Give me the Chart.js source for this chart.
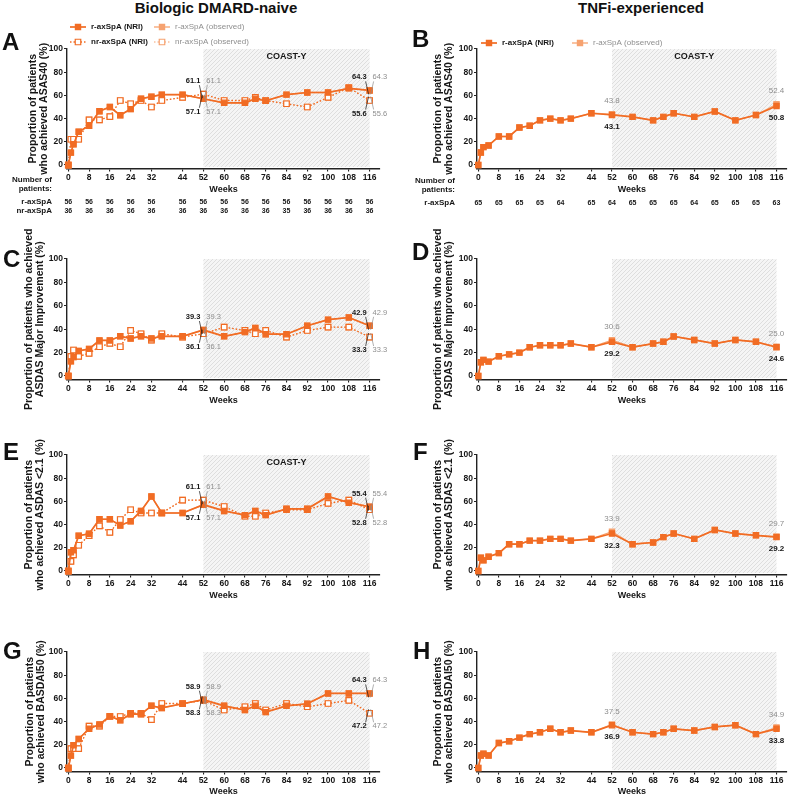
<!DOCTYPE html>
<html>
<head>
<meta charset="utf-8">
<script src="https://cdn.jsdelivr.net/npm/chart.js@4.4.1/dist/chart.umd.min.js"></script>
<style>
  body { margin: 0; background: #fff; width: 792px; height: 797px; position: relative; overflow: hidden;
         font-family: "Liberation Sans", Arial, sans-serif; }
  canvas { position: absolute; }
  .hd { position: absolute; font-weight: bold; font-size: 15px; line-height: 16px; white-space: nowrap; transform: translateX(-50%); color: #111; }
  .lt { position: absolute; font-weight: bold; font-size: 24px; line-height: 24px; color: #111; }
</style>
</head>
<body>
<div class="hd" style="left:216px;top:0">Biologic DMARD-naive</div>
<div class="hd" style="left:641px;top:0">TNFi-experienced</div>

<canvas id="cA" width="396" height="232" style="left:0;top:0"></canvas>
<canvas id="cB" width="396" height="232" style="left:396px;top:0"></canvas>
<canvas id="cC" width="396" height="222" style="left:0;top:200px"></canvas>
<canvas id="cD" width="396" height="222" style="left:396px;top:200px"></canvas>
<canvas id="cE" width="396" height="218" style="left:0;top:400px"></canvas>
<canvas id="cF" width="396" height="218" style="left:396px;top:400px"></canvas>
<canvas id="cG" width="396" height="197" style="left:0;top:600px"></canvas>
<canvas id="cH" width="396" height="197" style="left:396px;top:600px"></canvas>

<div class="lt" style="left:2px;top:30px">A</div>
<div class="lt" style="left:412px;top:27px">B</div>
<div class="lt" style="left:3px;top:247px">C</div>
<div class="lt" style="left:412px;top:240px">D</div>
<div class="lt" style="left:3px;top:440px">E</div>
<div class="lt" style="left:413px;top:440px">F</div>
<div class="lt" style="left:3px;top:639px">G</div>
<div class="lt" style="left:413px;top:639px">H</div>

<script>
// time points and ticks
const weeks = [0, 1, 2, 4, 8, 12, 16, 20, 24, 28, 32, 36, 44, 52, 60, 68, 72, 76, 84, 92, 100, 108, 116];
const xTicks = [0, 8, 16, 24, 32, 44, 52, 60, 68, 76, 84, 92, 100, 108, 116];
const yTicks = [0, 20, 40, 60, 80, 100];

// A - ASAS40, bDMARD-naive
const asasR   = [0, 10.7, 17.9, 28.6, 33.9, 46.4, 50, 42.9, 48.2, 57.1, 58.9, 60.7, 60.7, 57.1, 53.6, 53.6, 57.1, 55.4, 60.7, 62.5, 62.5, 66.1, 64.3];
const asasRObs = [0, 10.7, 17.9, 28.6, 33.9, 46.4, 50, 42.9, 48.2, 57.1, 58.9, 60.7, 60.7, 57.1, 53.6, 53.6, 57.1, 55.4, 60.7, 62.5, 62.5, 66.1, 64.3];
const asasNr  = [0, 22.2, 22.2, 22.2, 38.9, 38.9, 41.7, 55.6, 52.8, 55.6, 50, 55.6, 58.3, 61.1, 55.6, 55.6, 58.3, 55.6, 52.8, 50, 58.3, 66.7, 55.6];
const asasNrObs = [0, 22.2, 22.2, 22.2, 38.9, 38.9, 41.7, 55.6, 52.8, 55.6, 50, 55.6, 58.3, 61.1, 55.6, 55.6, 58.3, 55.6, 52.8, 50, 58.3, 66.7, 55.6];
// B - ASAS40, TNFi-experienced
const asasT    = [0, 10.8, 15.4, 16.9, 24.6, 24.6, 32.3, 33.8, 38.5, 40, 38.5, 40, 44.6, 43.1, 41.5, 38.5, 41.5, 44.6, 41.5, 46.2, 38.5, 43.1, 50.8];
const asasTObs = [0, 10.8, 15.4, 16.9, 24.6, 24.6, 32.3, 33.8, 38.5, 40, 38.5, 40, 44.6, 43.8, 41.5, 38.5, 41.5, 44.6, 41.5, 46.2, 38.5, 43.1, 52.4];
// C - ASDAS major improvement, bDMARD-naive
const asdasMiR   = [0, 12.5, 16.1, 21.4, 23.2, 30.4, 30.4, 33.9, 32.1, 33.9, 32.1, 33.9, 33.9, 39.3, 33.9, 37.5, 41.1, 35.7, 35.7, 42.9, 48.2, 50, 42.9];
const asdasMiRObs = [0, 12.5, 16.1, 21.4, 23.2, 30.4, 30.4, 33.9, 32.1, 33.9, 32.1, 33.9, 33.9, 39.3, 33.9, 37.5, 41.1, 35.7, 35.7, 42.9, 48.2, 50, 42.9];
const asdasMiNr  = [0, 16.7, 22.2, 16.7, 19.4, 25, 27.8, 25, 38.9, 36.1, 30.6, 36.1, 33.3, 36.1, 41.7, 38.9, 36.1, 38.9, 33.3, 38.9, 41.7, 41.7, 33.3];
const asdasMiNrObs = [0, 16.7, 22.2, 16.7, 19.4, 25, 27.8, 25, 38.9, 36.1, 30.6, 36.1, 33.3, 36.1, 41.7, 38.9, 36.1, 38.9, 33.3, 38.9, 41.7, 41.7, 33.3];
// D - ASDAS major improvement, TNFi-experienced
const asdasMiT    = [0, 11.7, 13.8, 12.3, 16.9, 18.5, 20, 24.6, 26.2, 26.2, 26.2, 27.7, 24.6, 29.2, 24.6, 27.7, 29.2, 33.8, 30.8, 27.7, 30.8, 29.2, 24.6];
const asdasMiTObs = [0, 11.7, 13.8, 12.3, 16.9, 18.5, 20, 24.6, 26.2, 26.2, 26.2, 27.7, 24.6, 30.6, 24.6, 27.7, 29.2, 33.8, 30.8, 27.7, 30.8, 29.2, 25.0];
// E - ASDAS <2.1, bDMARD-naive
const asdasLdR   = [0, 16.1, 17.9, 30.4, 32.1, 44.6, 44.6, 39.3, 42.9, 51.8, 64.3, 50, 50, 57.1, 51.8, 48.2, 51.8, 48.2, 53.6, 53.6, 64.3, 58.9, 55.4];
const asdasLdRObs = [0, 16.1, 17.9, 30.4, 32.1, 44.6, 44.6, 39.3, 42.9, 51.8, 64.3, 50, 50, 57.1, 51.8, 48.2, 51.8, 48.2, 53.6, 53.6, 64.3, 58.9, 55.4];
const asdasLdNr  = [0, 8.3, 13.9, 22.2, 30.6, 38.9, 33.3, 44.4, 52.8, 50, 50, 50, 61.1, 61.1, 55.6, 47.2, 47.2, 50, 52.8, 52.8, 58.3, 61.1, 52.8];
const asdasLdNrObs = [0, 8.3, 13.9, 22.2, 30.6, 38.9, 33.3, 44.4, 52.8, 50, 50, 50, 61.1, 61.1, 55.6, 47.2, 47.2, 50, 52.8, 52.8, 58.3, 61.1, 52.8];
// F - ASDAS <2.1, TNFi-experienced
const asdasLdT    = [0, 11.5, 9.2, 12.3, 15.4, 23.1, 23.1, 26.2, 26.2, 27.7, 27.7, 26.2, 27.7, 32.3, 23.1, 24.6, 29.2, 32.3, 27.7, 35.4, 32.3, 30.8, 29.2];
const asdasLdTObs = [0, 11.5, 9.2, 12.3, 15.4, 23.1, 23.1, 26.2, 26.2, 27.7, 27.7, 26.2, 27.7, 33.9, 23.1, 24.6, 29.2, 32.3, 27.7, 35.4, 32.3, 30.8, 29.7];
// G - BASDAI50, bDMARD-naive
const basdaiR   = [0, 10.7, 19.6, 25, 33.9, 37.5, 44.6, 41.1, 46.4, 46.4, 53.6, 51.8, 55.4, 58.9, 53.6, 50, 53.6, 48.2, 53.6, 55.4, 64.3, 64.3, 64.3];
const basdaiRObs = [0, 10.7, 19.6, 25, 33.9, 37.5, 44.6, 41.1, 46.4, 46.4, 53.6, 51.8, 55.4, 58.9, 53.6, 50, 53.6, 48.2, 53.6, 55.4, 64.3, 64.3, 64.3];
const basdaiNr  = [0, 16.7, 16.7, 16.7, 36.1, 36.1, 44.4, 44.4, 47.2, 47.2, 41.7, 55.6, 55.6, 58.3, 50, 52.8, 55.6, 50, 55.6, 52.8, 55.6, 58.3, 47.2];
const basdaiNrObs = [0, 16.7, 16.7, 16.7, 36.1, 36.1, 44.4, 44.4, 47.2, 47.2, 41.7, 55.6, 55.6, 58.3, 50, 52.8, 55.6, 50, 55.6, 52.8, 55.6, 58.3, 47.2];
// H - BASDAI50, TNFi-experienced
const basdaiT    = [0, 10.8, 12.3, 10.8, 21.5, 23.1, 26.2, 29.2, 30.8, 33.8, 30.8, 32.3, 30.8, 36.9, 30.8, 29.2, 30.8, 33.8, 32.3, 35.4, 36.9, 29.2, 33.8];
const basdaiTObs = [0, 10.8, 12.3, 10.8, 21.5, 23.1, 26.2, 29.2, 30.8, 33.8, 30.8, 32.3, 30.8, 37.5, 30.8, 29.2, 30.8, 33.8, 32.3, 35.4, 36.9, 29.2, 34.9];

// number of patients (at xTicks)
const nNaiveR  = [56, 56, 56, 56, 56, 56, 56, 56, 56, 56, 56, 56, 56, 56, 56];
const nNaiveNr = [36, 36, 36, 36, 36, 36, 36, 36, 36, 36, 35, 36, 36, 36, 36];
const nTnfiR   = [65, 65, 65, 65, 64, 65, 64, 65, 65, 65, 64, 65, 65, 65, 63];

const NRI = "rgb(241,108,36)";
const OBS = "rgb(246,162,112)";
const INK = "#161616";
const GREY = "#8e8e8e";

const styles = {
  rNri:  { color: NRI, fill: NRI,    dash: [],       width: 1.7, r: 3.7, order: 0 },
  nrNri: { color: NRI, fill: "#fff", dash: [1.5, 2], width: 1.3, r: 3.9, order: 1 },
  rObs:  { color: OBS, fill: OBS,    dash: [],       width: 1.3, r: 3.7, order: 2 },
  nrObs: { color: OBS, fill: "#fff", dash: [1.5, 2], width: 1.1, r: 3.9, order: 3 }
};

function series(vals, key) {
  const st = styles[key];
  return {
    data: weeks.map((w, i) => ({ x: w, y: vals[i] })),
    borderColor: st.color,
    backgroundColor: st.fill,
    borderDash: st.dash,
    borderWidth: st.width,
    pointStyle: "rect",
    pointRadius: st.r,
    pointBorderWidth: 1.2,
    pointBackgroundColor: st.fill,
    pointBorderColor: st.color,
    order: st.order,
    tension: 0,
    clip: false
  };
}

function hatchFill(ctx) {
  const c = document.createElement("canvas");
  c.width = 4; c.height = 4;
  const g = c.getContext("2d");
  g.fillStyle = "#f5f5f5";
  g.fillRect(0, 0, 4, 4);
  g.strokeStyle = "#d4d4d4";
  g.lineWidth = 0.7;
  g.beginPath();
  g.moveTo(0, 4); g.lineTo(4, 0);
  g.moveTo(-1, 1); g.lineTo(1, -1);
  g.moveTo(3, 5); g.lineTo(5, 3);
  g.stroke();
  return ctx.createPattern(c, "repeat");
}

function marker(ctx, x, y, st) {
  const h = st.r * Math.SQRT1_2;
  ctx.fillStyle = st.fill;
  ctx.strokeStyle = st.color;
  ctx.lineWidth = 1.2;
  ctx.setLineDash([]);
  ctx.beginPath();
  ctx.rect(x - h, y - h, 2 * h, 2 * h);
  ctx.fill();
  ctx.stroke();
}

const extras = {
  id: "extras",
  beforeDraw(chart, args, o) {
    const { ctx, scales: { x, y } } = chart;
    const l = x.getPixelForValue(52), r = x.getPixelForValue(116);
    const t = y.getPixelForValue(100), b = y.getPixelForValue(0);
    ctx.save();
    ctx.fillStyle = hatchFill(ctx);
    ctx.fillRect(l, t, r - l, b - t + 2);
    if (o.coast) {
      ctx.fillStyle = INK;
      ctx.font = "bold 9px 'Liberation Sans', Arial";
      ctx.textAlign = "center";
      ctx.textBaseline = "middle";
      ctx.fillText("COAST-Y", (l + r) / 2, t + 8);
    }
    ctx.restore();
  },
  afterDraw(chart, args, o) {
    const { ctx, scales: { x, y } } = chart;
    ctx.save();
    ctx.textBaseline = "middle";
    // value labels at weeks 52 and 116
    (o.notes || []).forEach(n => {
      const i = weeks.indexOf(n.w);
      const px = x.getPixelForValue(n.w);
      const pyN = y.getPixelForValue(n.nri[i]);
      const pyO = y.getPixelForValue(n.obs[i]);
      const a = n.nri[i].toFixed(1), b = n.obs[i].toFixed(1);
      if (o.pair) {
        const s = n.up ? -1 : 1;
        const ly = pyN + s * 13;
        ctx.font = "bold 7.5px 'Liberation Sans', Arial";
        ctx.fillStyle = INK;
        ctx.textAlign = "right";
        ctx.fillText(a, px - 3, ly);
        ctx.font = "7.5px 'Liberation Sans', Arial";
        ctx.fillStyle = GREY;
        ctx.textAlign = "left";
        ctx.fillText(b, px + 3, ly);
        ctx.lineWidth = 0.7;
        ctx.strokeStyle = INK;
        ctx.beginPath();
        ctx.moveTo(px - 4, ly - s * 4); ctx.lineTo(px - 1, pyN - s * 4); ctx.stroke();
        ctx.strokeStyle = GREY;
        ctx.beginPath();
        ctx.moveTo(px + 4, ly - s * 4); ctx.lineTo(px + 1, pyN - s * 4); ctx.stroke();
      } else {
        ctx.textAlign = "center";
        ctx.font = "8px 'Liberation Sans', Arial";
        ctx.fillStyle = GREY;
        ctx.fillText(b, px, pyO - 13);
        ctx.font = "bold 8px 'Liberation Sans', Arial";
        ctx.fillStyle = INK;
        ctx.fillText(a, px, pyN + 12);
      }
    });
    // legend
    (o.legend || []).forEach(it => {
      const st = styles[it.key];
      ctx.strokeStyle = st.color;
      ctx.lineWidth = st.width;
      ctx.setLineDash(st.dash);
      ctx.beginPath();
      ctx.moveTo(it.x - 8, it.y); ctx.lineTo(it.x + 8, it.y);
      ctx.stroke();
      marker(ctx, it.x, it.y, st);
      ctx.font = (it.bold ? "bold " : "") + "8px 'Liberation Sans', Arial";
      ctx.fillStyle = it.bold ? INK : GREY;
      ctx.textAlign = "left";
      ctx.fillText(it.text, it.x + 13, it.y);
    });
    // number of patients table
    if (o.table) {
      const tb = o.table;
      ctx.fillStyle = INK;
      ctx.textAlign = "right";
      ctx.font = "bold 8px 'Liberation Sans', Arial";
      ctx.fillText("Number of", tb.labelX, tb.headY);
      ctx.fillText("patients:", tb.labelX, tb.headY + 9);
      tb.rows.forEach(row => {
        ctx.textAlign = "right";
        ctx.font = "bold 8px 'Liberation Sans', Arial";
        ctx.fillText(row.label, tb.labelX, row.y);
        ctx.textAlign = "center";
        ctx.font = "bold 7px 'Liberation Sans', Arial";
        xTicks.forEach((w, k) => ctx.fillText(String(row.n[k]), x.getPixelForValue(w), row.y));
      });
    }
    ctx.restore();
  }
};

const tickFont = { family: "'Liberation Sans', Arial", size: 8.5, weight: "bold" };

function panel(id, cfg) {
  new Chart(document.getElementById(id), {
    type: "line",
    data: { datasets: cfg.sets.map(s => series(s[0], s[1])) },
    plugins: [extras],
    options: {
      responsive: false,
      animation: false,
      layout: { padding: { left: cfg.padL, right: cfg.padR, top: cfg.padT, bottom: cfg.padB } },
      plugins: {
        legend: { display: false },
        tooltip: { enabled: false },
        extras: { coast: cfg.coast, notes: cfg.notes, pair: cfg.pair, legend: cfg.legend, table: cfg.table }
      },
      scales: {
        x: {
          type: "linear",
          min: -0.5,
          max: 120,
          afterBuildTicks: s => { s.ticks = xTicks.map(v => ({ value: v })); },
          afterFit: s => { s.height = cfg.xH; },
          ticks: { autoSkip: false, maxRotation: 0, padding: 1, color: INK, font: tickFont },
          grid: { display: true, drawOnChartArea: false, drawTicks: true, tickLength: 3, color: "#222", lineWidth: 1.1 },
          border: { display: true, color: "#222", width: 1.4 },
          title: { display: true, text: "Weeks", padding: 0, color: INK,
                   font: { family: "'Liberation Sans', Arial", size: 9, weight: "bold" } }
        },
        y: {
          min: -3,
          max: 100,
          afterBuildTicks: s => { s.ticks = yTicks.map(v => ({ value: v })); },
          afterFit: s => { s.width = cfg.yW; },
          ticks: { padding: 1, color: INK, font: tickFont },
          grid: { display: true, drawOnChartArea: false, drawTicks: true, tickLength: 3, color: "#222", lineWidth: 1.1 },
          border: { display: true, color: "#222", width: 1.4 },
          title: { display: true, text: cfg.yTitle, padding: 0, color: INK,
                   font: { family: "'Liberation Sans', Arial", size: 10.5, weight: "bold", lineHeight: 1.1 } }
        }
      }
    }
  });
}

const L = { padR: 16 };
const R = { padL: 36.2, yW: 44.8, padR: 2, pair: false };

panel("cA", Object.assign({}, L, {
  padL: 27.2, yW: 39.8, padT: 49, xH: 26, padB: 37.5, coast: true, pair: true,
  yTitle: ["Proportion of patients", "who achieved ASAS40 (%)"],
  sets: [[asasR, "rNri"], [asasNr, "nrNri"], [asasRObs, "rObs"], [asasNrObs, "nrObs"]],
  notes: [
    { w: 52, nri: asasNr, obs: asasNrObs, up: true },
    { w: 52, nri: asasR, obs: asasRObs, up: false },
    { w: 116, nri: asasR, obs: asasRObs, up: true },
    { w: 116, nri: asasNr, obs: asasNrObs, up: false }
  ],
  legend: [
    { x: 78, y: 27, key: "rNri", text: "r-axSpA (NRI)", bold: true },
    { x: 162, y: 27, key: "rObs", text: "r-axSpA (observed)", bold: false },
    { x: 78, y: 42, key: "nrNri", text: "nr-axSpA (NRI)", bold: true },
    { x: 162, y: 42, key: "nrObs", text: "nr-axSpA (observed)", bold: false }
  ],
  table: { labelX: 52, headY: 180, rows: [{ label: "r-axSpA", y: 202, n: nNaiveR }, { label: "nr-axSpA", y: 211, n: nNaiveNr }] }
}));

panel("cB", Object.assign({}, R, {
  padT: 49, xH: 26, padB: 37.5, coast: true,
  yTitle: ["Proportion of patients", "who achieved ASAS40 (%)"],
  sets: [[asasT, "rNri"], [asasTObs, "rObs"]],
  notes: [{ w: 52, nri: asasT, obs: asasTObs }, { w: 116, nri: asasT, obs: asasTObs }],
  legend: [
    { x: 93, y: 43, key: "rNri", text: "r-axSpA (NRI)", bold: true },
    { x: 184, y: 43, key: "rObs", text: "r-axSpA (observed)", bold: false }
  ],
  table: { labelX: 59, headY: 181, rows: [{ label: "r-axSpA", y: 203, n: nTnfiR }] }
}));

panel("cC", Object.assign({}, L, {
  padL: 23.2, yW: 43.8, padT: 59, xH: 26, padB: 16.5, coast: false, pair: true,
  yTitle: ["Proportion of patients who achieved", "ASDAS Major Improvement (%)"],
  sets: [[asdasMiR, "rNri"], [asdasMiNr, "nrNri"], [asdasMiRObs, "rObs"], [asdasMiNrObs, "nrObs"]],
  notes: [
    { w: 52, nri: asdasMiR, obs: asdasMiRObs, up: true },
    { w: 52, nri: asdasMiNr, obs: asdasMiNrObs, up: false },
    { w: 116, nri: asdasMiR, obs: asdasMiRObs, up: true },
    { w: 116, nri: asdasMiNr, obs: asdasMiNrObs, up: false }
  ]
}));

panel("cD", Object.assign({}, R, {
  padT: 59, xH: 26, padB: 16.5, coast: false,
  yTitle: ["Proportion of patients who achieved", "ASDAS Major Improvement (%)"],
  sets: [[asdasMiT, "rNri"], [asdasMiTObs, "rObs"]],
  notes: [{ w: 52, nri: asdasMiT, obs: asdasMiTObs }, { w: 116, nri: asdasMiT, obs: asdasMiTObs }]
}));

panel("cE", Object.assign({}, L, {
  padL: 23.2, yW: 43.8, padT: 55, xH: 26, padB: 17.5, coast: true, pair: true,
  yTitle: ["Proportion of patients", "who achieved ASDAS <2.1 (%)"],
  sets: [[asdasLdR, "rNri"], [asdasLdNr, "nrNri"], [asdasLdRObs, "rObs"], [asdasLdNrObs, "nrObs"]],
  notes: [
    { w: 52, nri: asdasLdNr, obs: asdasLdNrObs, up: true },
    { w: 52, nri: asdasLdR, obs: asdasLdRObs, up: false },
    { w: 116, nri: asdasLdR, obs: asdasLdRObs, up: true },
    { w: 116, nri: asdasLdNr, obs: asdasLdNrObs, up: false }
  ]
}));

panel("cF", Object.assign({}, R, {
  padT: 55, xH: 26, padB: 17.5, coast: false,
  yTitle: ["Proportion of patients", "who achieved ASDAS <2.1 (%)"],
  sets: [[asdasLdT, "rNri"], [asdasLdTObs, "rObs"]],
  notes: [{ w: 52, nri: asdasLdT, obs: asdasLdTObs }, { w: 116, nri: asdasLdT, obs: asdasLdTObs }]
}));

panel("cG", Object.assign({}, L, {
  padL: 24.2, yW: 42.8, padT: 52, xH: 25.5, padB: 0, coast: false, pair: true,
  yTitle: ["Proportion of patients", "who achieved BASDAI50 (%)"],
  sets: [[basdaiR, "rNri"], [basdaiNr, "nrNri"], [basdaiRObs, "rObs"], [basdaiNrObs, "nrObs"]],
  notes: [
    { w: 52, nri: basdaiR, obs: basdaiRObs, up: true },
    { w: 52, nri: basdaiNr, obs: basdaiNrObs, up: false },
    { w: 116, nri: basdaiR, obs: basdaiRObs, up: true },
    { w: 116, nri: basdaiNr, obs: basdaiNrObs, up: false }
  ]
}));

panel("cH", Object.assign({}, R, {
  padT: 52, xH: 25.5, padB: 0, coast: false,
  yTitle: ["Proportion of patients", "who achieved BASDAI50 (%)"],
  sets: [[basdaiT, "rNri"], [basdaiTObs, "rObs"]],
  notes: [{ w: 52, nri: basdaiT, obs: basdaiTObs }, { w: 116, nri: basdaiT, obs: basdaiTObs }]
}));
</script>
</body>
</html>
